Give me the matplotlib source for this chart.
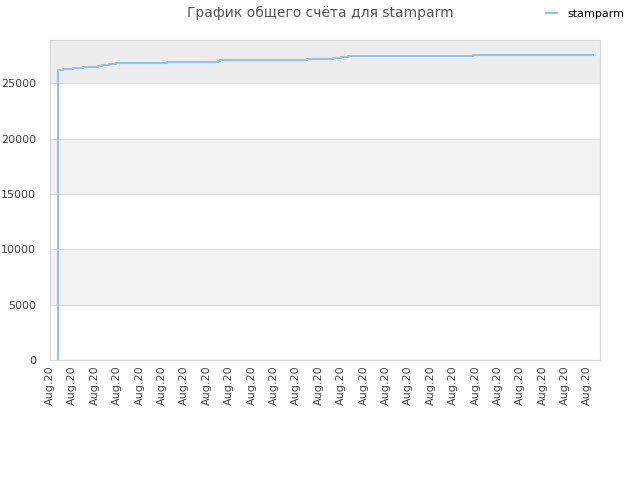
import matplotlib
matplotlib.use("Agg")
import matplotlib.pyplot as plt

# ---------------- DATA ----------------
tick_labels = ["Aug.20"] * 25
# step positions (in tick units) and total score after each step
step_x = [0.34, 0.34, 0.59, 1.04, 1.49, 2.16, 2.34, 2.64, 2.93, 5.21,
          7.49, 7.59, 11.46, 12.65, 13.0, 13.32, 18.91, 24.25]
step_y = [0, 26170, 26290, 26380, 26470, 26560, 26650, 26740, 26830, 26920,
          27010, 27100, 27190, 27280, 27370, 27460, 27590, 27590]
series_name = "stamparm"
title = "График общего счёта для stamparm"
# --------------------------------------

LINE_COLOR = "#92c1f2"

fig = plt.figure(figsize=(6.4, 4.8), dpi=100)
ax = fig.add_axes([50 / 640, 1 - 360 / 480, 550 / 640, 320 / 480])

# alternating bands
bands = [(5000, 10000, "#f2f2f2"), (15000, 20000, "#f2f2f2"), (25000, 30000, "#ededed")]
for lo, hi, c in bands:
    ax.axhspan(lo, hi, color=c, zorder=0, lw=0)

ax.plot(step_x, step_y, drawstyle="steps-post", color=LINE_COLOR, lw=1.5,
        label=series_name, zorder=3)

ax.set_xlim(0, 550 / 22.39)
ax.set_ylim(0, 28900)
ax.set_yticks([0, 5000, 10000, 15000, 20000, 25000])
ax.set_xticks(range(len(tick_labels)))
ax.set_xticklabels(tick_labels, rotation=90, fontsize=8, color="#444444")
ax.tick_params(axis="y", labelsize=8, labelcolor="#444444", length=0, pad=10)
ax.tick_params(axis="x", length=0, pad=4)
ax.grid(axis="y", color="#dddddd", lw=0.8, zorder=1)
for s in ax.spines.values():
    s.set_color("#d8d8d8")
ax.set_axisbelow(True)

fig.text(0.5, 1 - 13 / 480, title, ha="center", va="center", fontsize=10, color="#555555")
fig.legend(loc="center", bbox_to_anchor=(585 / 640, 1 - 14 / 480), frameon=False,
           fontsize=8, handlelength=1.0, handletextpad=0.9)

plt.savefig("out.png")
